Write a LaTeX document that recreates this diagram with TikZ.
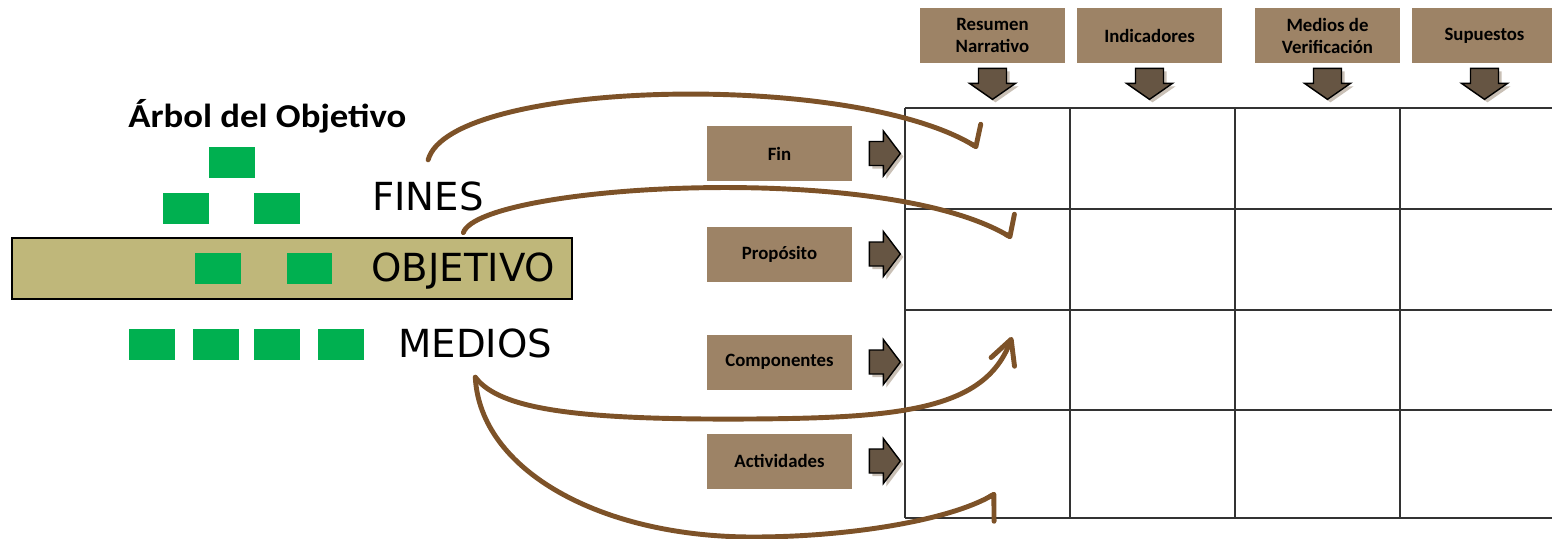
\documentclass[tikz,border=0pt]{standalone}
\usepackage{fontspec}
\setmainfont{Carlito}
\newfontfamily\verdfont{DejaVu Sans}
\usetikzlibrary{arrows.meta,positioning}
\definecolor{cafe}{HTML}{9D8366}
\definecolor{oliva}{HTML}{BFB77A}
\definecolor{verde}{HTML}{00B050}
\definecolor{cuerda}{HTML}{7D5228}
\definecolor{flecha}{HTML}{665543}
\definecolor{sombra}{HTML}{C9C0B6}
\tikzset{
  caja/.style={fill=cafe,minimum width=2.9cm,minimum height=1.1cm,inner sep=0pt,
    align=center,font=\fontsize{10.7}{12.5}\selectfont\bfseries},
  hoja/.style={fill=verde,minimum width=0.92cm,minimum height=0.62cm,inner sep=0pt},
  nivel/.style={font=\verdfont\fontsize{22}{26}\selectfont,inner sep=0pt},
  rejilla/.style={draw=black!80,line width=0.8pt},
  cuerda/.style={draw=cuerda,line width=2.8pt,line cap=round,line join=round},
  rflecha/.pic={
    \fill[sombra] (-12.5,-9)--(1.5,-9)--(1.5,-19.5)--(18.5,3)--(1.5,25.5)--(1.5,15)--(-12.5,15)--cycle;
    \filldraw[fill=flecha,line width=0.8pt,line join=miter]
      (-15.5,-12)--(-1.5,-12)--(-1.5,-22.5)--(15.5,0)--(-1.5,22.5)--(-1.5,12)--(-15.5,12)--cycle;
  },
  bflecha/.pic={
    \fill[sombra] (-11,-12.5)--(17,-12.5)--(17,2.5)--(26,2.5)--(3,18.5)--(-20,2.5)--(-11,2.5)--cycle;
    \filldraw[fill=flecha,line width=0.8pt,line join=miter]
      (-14,-15.5)--(14,-15.5)--(14,-0.5)--(23,-0.5)--(0,15.5)--(-23,-0.5)--(-14,-0.5)--cycle;
  }
}
\begin{document}
\begin{tikzpicture}[x=0.02cm,y=-0.02cm]
\useasboundingbox (0,0) rectangle (1552,538);

% matriz
\foreach \y in {108,209,310,410,518}
  \draw[rejilla] (905,\y) -- (1560,\y);
\foreach \x in {905,1070,1235,1400}
  \draw[rejilla] (\x,108) -- (\x,518);

% encabezados
\node[caja] (resumen) at (992.5,35.5) {Resumen\\Narrativo};
\node[caja] (indicadores) at (1149.5,35.5) {Indicadores};
\node[caja] (medios de) at (1327.5,35.5) {Medios de\\Verificación};
\node[caja] (supuestos) at (1484.5,35.5) {Supuestos};
\foreach \n in {resumen,indicadores,medios de,supuestos}
  \path (\n.south) ++(0,20.5) pic {bflecha};

% niveles
\node[caja] (fin) at (779.5,153.5) {Fin};
\node[caja] (proposito) at (779.5,254) {Propósito};
\node[caja] (componentes) at (779.5,362) {Componentes};
\node[caja] (actividades) at (779.5,461) {Actividades};
\foreach \n in {fin,proposito,componentes,actividades}
  \path (\n.east) ++(32.5,0) pic {rflecha};

% arbol
\node[anchor=base west,inner sep=0pt,font=\fontsize{19}{22}\selectfont\bfseries]
  (titulo) at (128,127) {\scalebox{1.1}[1]{Árbol del Objetivo}};
\node[draw,fill=oliva,line width=1.2pt,minimum width=11.2cm,minimum height=1.22cm]
  (barra) at (292,268.5) {};
\node[hoja] (h1) at (232,162.5) {};
\node[hoja] (h2) at (186,208.5) {};
\node[hoja] (h3) at (277,208.5) {};
\node[hoja] (h4) at (218,268.5) {};
\node[hoja] (h5) at (309.5,268.5) {};
\node[hoja] (h6) at (152,344.5) {};
\node[hoja] (h7) at (216,344.5) {};
\node[hoja] (h8) at (277,344.5) {};
\node[hoja] (h9) at (341,344.5) {};
\node[nivel,anchor=base west] (fines) at (372,210) {FINES};
\node[nivel,anchor=base west] (objetivo) at (371,281) {OBJETIVO};
\node[nivel,anchor=base west] (medios) at (398,357) {MEDIOS};

% destinos
\coordinate (d1) at (978,148);
\coordinate (d2) at (1012,238);
\coordinate (d3) at (1012,337);
\coordinate (d4) at (996,493);

\draw[cuerda,-{Straight Barb[round,harpoon,length=4.3pt,width=24.7pt]}]
  ([yshift=12pt]fines.north) .. controls (450,80) and (850,70) .. (d1);
\draw[cuerda,-{Straight Barb[round,harpoon,length=4.3pt,width=24.7pt]}]
  ([yshift=11pt]objetivo.north) .. controls (480,185) and (880,160) .. (d2);
\draw[cuerda,-{Straight Barb[round,length=13.7pt,width=14.2pt]}]
  ([yshift=-11pt]medios.south) .. controls (500,410) and (580,420) .. (750,419)
  .. controls (900,418) and (985,410) .. (d3);
\draw[cuerda,-{Straight Barb[round,harpoon,swap,length=7.7pt,width=26.6pt]}]
  ([yshift=-11pt]medios.south) .. controls (480,470) and (600,537) .. (753,537)
  .. controls (850,537) and (950,520) .. (d4);
\end{tikzpicture}
\end{document}
